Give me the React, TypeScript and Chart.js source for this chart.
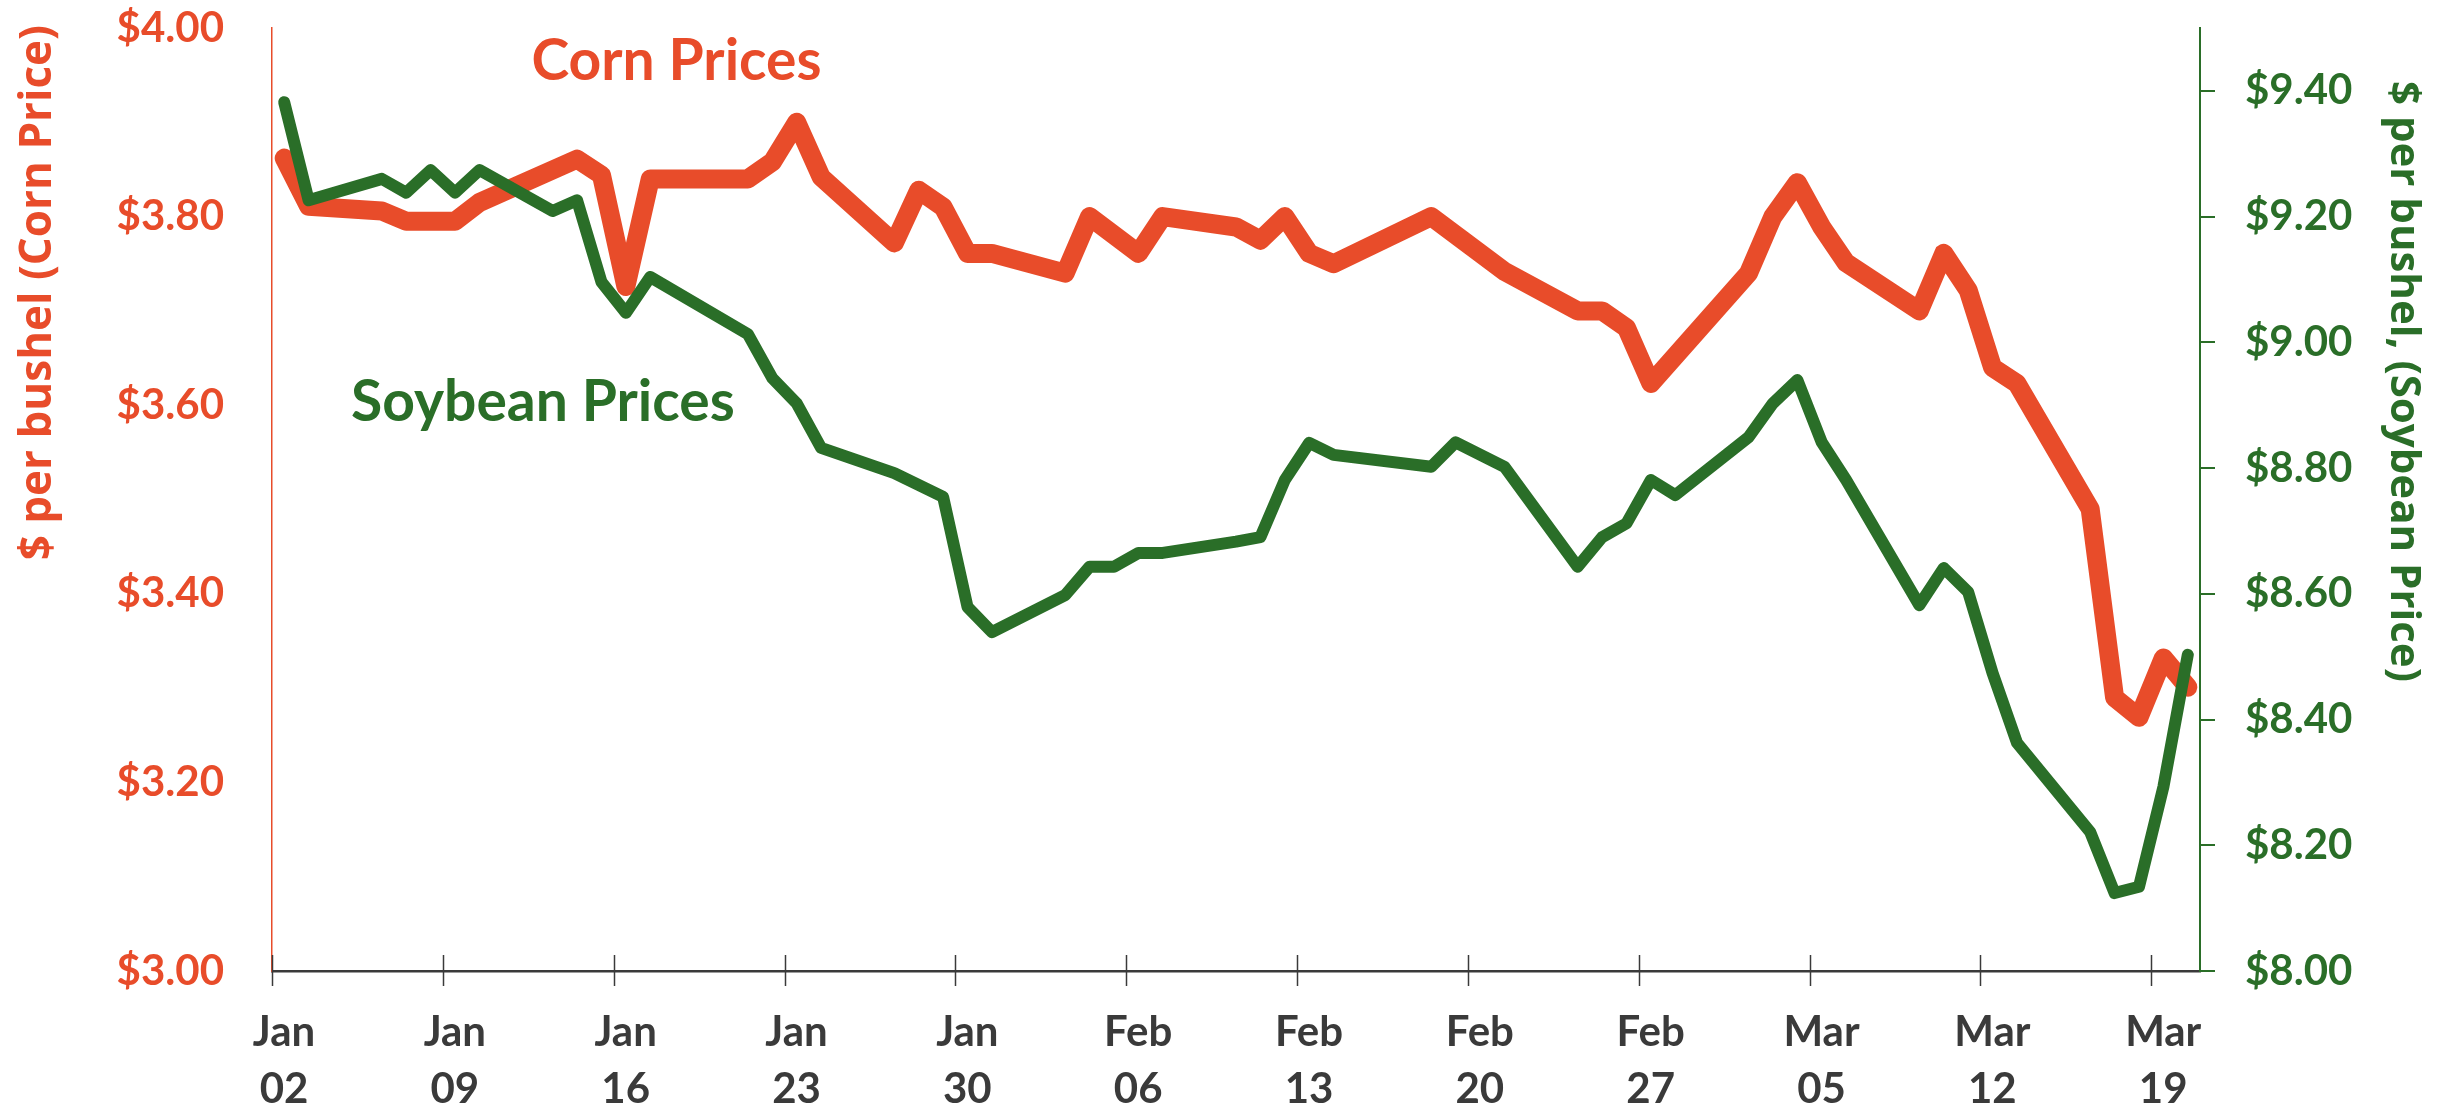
import React, { useEffect, useRef } from "react";
import { Chart, registerables } from "chart.js";

Chart.register(...registerables);

// ---- data (2020 trading days, $ per bushel) ----
const cornDates = [
  "01-02", "01-03", "01-06", "01-07", "01-09", "01-10", "01-14", "01-15", "01-16", "01-17",
  "01-21", "01-22", "01-23", "01-24", "01-27", "01-28", "01-29", "01-30", "01-31",
  "02-03", "02-04", "02-06", "02-07", "02-10", "02-11", "02-12", "02-13", "02-14",
  "02-18", "02-21", "02-24", "02-25", "02-26", "02-27",
  "03-02", "03-03", "03-04", "03-05", "03-06", "03-09", "03-10", "03-11", "03-12", "03-13",
  "03-16", "03-17", "03-18", "03-19", "03-20",
];
const cornPrices = [
  3.862, 3.811, 3.806, 3.795, 3.795, 3.815, 3.861, 3.844, 3.726, 3.84,
  3.84, 3.858, 3.9, 3.842, 3.772, 3.828, 3.81, 3.761, 3.761,
  3.74, 3.8, 3.761, 3.8, 3.789, 3.775, 3.8, 3.761, 3.75,
  3.8, 3.742, 3.7, 3.7, 3.682, 3.623,
  3.74, 3.8, 3.836, 3.789, 3.751, 3.7, 3.761, 3.722, 3.64, 3.623,
  3.49, 3.29, 3.269, 3.332, 3.301,
];

const soyDates = [
  "01-02", "01-03", "01-06", "01-07", "01-08", "01-09", "01-10", "01-13", "01-14", "01-15",
  "01-16", "01-17", "01-21", "01-22", "01-23", "01-24", "01-27", "01-29", "01-30", "01-31",
  "02-03", "02-04", "02-05", "02-06", "02-07", "02-10", "02-11", "02-12", "02-13", "02-14",
  "02-18", "02-19", "02-21", "02-24", "02-25", "02-26", "02-27", "02-28",
  "03-02", "03-03", "03-04", "03-05", "03-06", "03-09", "03-10", "03-11", "03-12", "03-13",
  "03-16", "03-17", "03-18", "03-19", "03-20",
];
const soyPrices = [
  9.382, 9.226, 9.26, 9.238, 9.274, 9.238, 9.274, 9.209, 9.226, 9.096,
  9.047, 9.104, 9.013, 8.943, 8.903, 8.832, 8.792, 8.754, 8.579, 8.539,
  8.598, 8.643, 8.643, 8.665, 8.665, 8.683, 8.69, 8.781, 8.84, 8.821,
  8.802, 8.841, 8.802, 8.643, 8.69, 8.712, 8.781, 8.757,
  8.849, 8.903, 8.94, 8.841, 8.781, 8.582, 8.641, 8.603, 8.474, 8.363,
  8.221, 8.124, 8.134, 8.293, 8.503,
];

const xTickDates = [
  "01-02", "01-09", "01-16", "01-23", "01-30", "02-06",
  "02-13", "02-20", "02-27", "03-05", "03-12", "03-19",
];
const xTickLabels = [
  ["Jan", "02"], ["Jan", "09"], ["Jan", "16"], ["Jan", "23"], ["Jan", "30"], ["Feb", "06"],
  ["Feb", "13"], ["Feb", "20"], ["Feb", "27"], ["Mar", "05"], ["Mar", "12"], ["Mar", "19"],
];
const xAxisEndDate = "03-21";
const cornTicks = [3.0, 3.2, 3.4, 3.6, 3.8, 4.0];
const soyTicks = [8.0, 8.2, 8.4, 8.6, 8.8, 9.0, 9.2, 9.4];

// ---- styling ----
const CORN = "#E84C2A";
const SOY = "#2A6E28";
const AXIS = "#3A3A3A";
const TICK_FONT = "Lato";
const TITLE_FONT = "'Open Sans'";

function dayIndex(md: string): number {
  const [m, d] = md.split("-").map(Number);
  return (Date.UTC(2020, m - 1, d) - Date.UTC(2020, 0, 2)) / 86400000;
}

const xTickDays = xTickDates.map(dayIndex);

const overlayPlugin = {
  id: "overlay",
  afterDraw(chart: any) {
    const { ctx, chartArea } = chart;
    const x = chart.scales.x;
    const yC = chart.scales.yCorn;
    const yS = chart.scales.ySoy;
    ctx.save();
    // crossing tick marks on the date axis
    ctx.strokeStyle = AXIS;
    ctx.lineWidth = 1.5;
    xTickDays.forEach((d) => {
      const px = Math.round(x.getPixelForValue(d)) + 0.5;
      ctx.beginPath();
      ctx.moveTo(px, chartArea.bottom - 16);
      ctx.lineTo(px, chartArea.bottom + 15);
      ctx.stroke();
    });
    // series labels
    ctx.font = `bold 57px ${TICK_FONT}`;
    ctx.textAlign = "left";
    ctx.textBaseline = "alphabetic";
    ctx.fillStyle = CORN;
    ctx.fillText("Corn Prices", x.getPixelForValue(10.63), yC.getPixelForValue(3.945));
    ctx.fillStyle = SOY;
    ctx.fillText("Soybean Prices", x.getPixelForValue(3.24), yS.getPixelForValue(8.875));
    // axis titles
    ctx.textBaseline = "middle";
    ctx.save();
    ctx.font = `bold 44px ${TITLE_FONT}`;
    ctx.translate(38, chartArea.top - 3);
    ctx.rotate(-Math.PI / 2);
    ctx.textAlign = "right";
    ctx.fillStyle = CORN;
    ctx.fillText("$ per bushel (Corn Price)", 0, 0);
    ctx.restore();
    ctx.save();
    ctx.font = `bold 42px ${TITLE_FONT}`;
    ctx.translate(2403, chartArea.top + 53);
    ctx.rotate(Math.PI / 2);
    ctx.textAlign = "left";
    ctx.fillStyle = SOY;
    ctx.fillText("$ per bushel, (Soybean Price)", 0, 0);
    ctx.restore();
    ctx.restore();
  },
};

const noVerticalPadding = (s: any) => {
  s.paddingTop = 0;
  s.paddingBottom = 0;
};

export default function App() {
  const canvasRef = useRef<HTMLCanvasElement | null>(null);

  useEffect(() => {
    const canvas = canvasRef.current;
    if (!canvas) return;
    const cornData = cornDates.map((d, i) => ({ x: dayIndex(d) + 0.5, y: cornPrices[i] }));
    const soyData = soyDates.map((d, i) => ({ x: dayIndex(d) + 0.5, y: soyPrices[i] }));
    const chart = new Chart(canvas, {
      type: "line",
      data: {
        datasets: [
          {
            label: "Soybean Prices",
            data: soyData,
            yAxisID: "ySoy",
            borderColor: SOY,
            borderWidth: 12,
            pointRadius: 0,
            borderJoinStyle: "round",
            borderCapStyle: "round",
            tension: 0,
            order: 0,
          },
          {
            label: "Corn Prices",
            data: cornData,
            yAxisID: "yCorn",
            borderColor: CORN,
            borderWidth: 19,
            pointRadius: 0,
            borderJoinStyle: "round",
            borderCapStyle: "round",
            tension: 0,
            order: 1,
          },
        ],
      },
      options: {
        responsive: false,
        animation: false,
        devicePixelRatio: 1,
        layout: { padding: { top: 28, left: 0, right: 0, bottom: 0 } },
        plugins: { legend: { display: false }, tooltip: { enabled: false } },
        scales: {
          x: {
            type: "linear",
            min: 0,
            max: dayIndex(xAxisEndDate),
            afterBuildTicks: (s: any) => {
              s.ticks = xTickDays.map((v) => ({ value: v }));
            },
            afterFit: (s: any) => {
              s.height = 139;
              s.paddingLeft = 0;
              s.paddingRight = 0;
            },
            grid: { display: false, drawTicks: false },
            border: { display: true, color: AXIS, width: 2.5 },
            ticks: {
              autoSkip: false,
              maxRotation: 0,
              minRotation: 0,
              padding: 33,
              labelOffset: 12,
              color: AXIS,
              font: { family: TICK_FONT, weight: "bold", size: 42, lineHeight: 57 / 42 },
              callback: (v: any) => {
                const i = xTickDays.indexOf(Number(v));
                return i >= 0 ? xTickLabels[i] : "";
              },
            },
          },
          yCorn: {
            type: "linear",
            position: "left",
            min: 3,
            max: 4,
            afterBuildTicks: (s: any) => {
              s.ticks = cornTicks.map((v) => ({ value: v }));
            },
            afterFit: (s: any) => {
              s.width = 272;
              noVerticalPadding(s);
            },
            grid: { display: false, drawTicks: false },
            border: { display: true, color: CORN, width: 1.5 },
            ticks: {
              padding: 48,
              color: CORN,
              font: { family: TICK_FONT, weight: "bold", size: 42 },
              callback: (v: any) => "$" + Number(v).toFixed(2),
            },
          },
          ySoy: {
            type: "linear",
            position: "right",
            min: 8,
            max: 9.5,
            afterBuildTicks: (s: any) => {
              s.ticks = soyTicks.map((v) => ({ value: v }));
            },
            afterFit: (s: any) => {
              s.width = 246;
              noVerticalPadding(s);
            },
            grid: {
              display: true,
              drawOnChartArea: false,
              drawTicks: true,
              tickLength: 15,
              color: SOY,
              lineWidth: 2,
            },
            border: { display: true, color: SOY, width: 2 },
            ticks: {
              padding: 30,
              color: SOY,
              font: { family: TICK_FONT, weight: "bold", size: 42 },
              callback: (v: any) => "$" + Number(v).toFixed(2),
            },
          },
        },
      },
      plugins: [overlayPlugin],
    } as any);
    return () => chart.destroy();
  }, []);

  return (
    <div style={{ position: "fixed", left: 0, top: 0, width: 2446, height: 1110, background: "#fff" }}>
      <canvas ref={canvasRef} width={2446} height={1110} style={{ width: 2446, height: 1110, display: "block" }} />
    </div>
  );
}
